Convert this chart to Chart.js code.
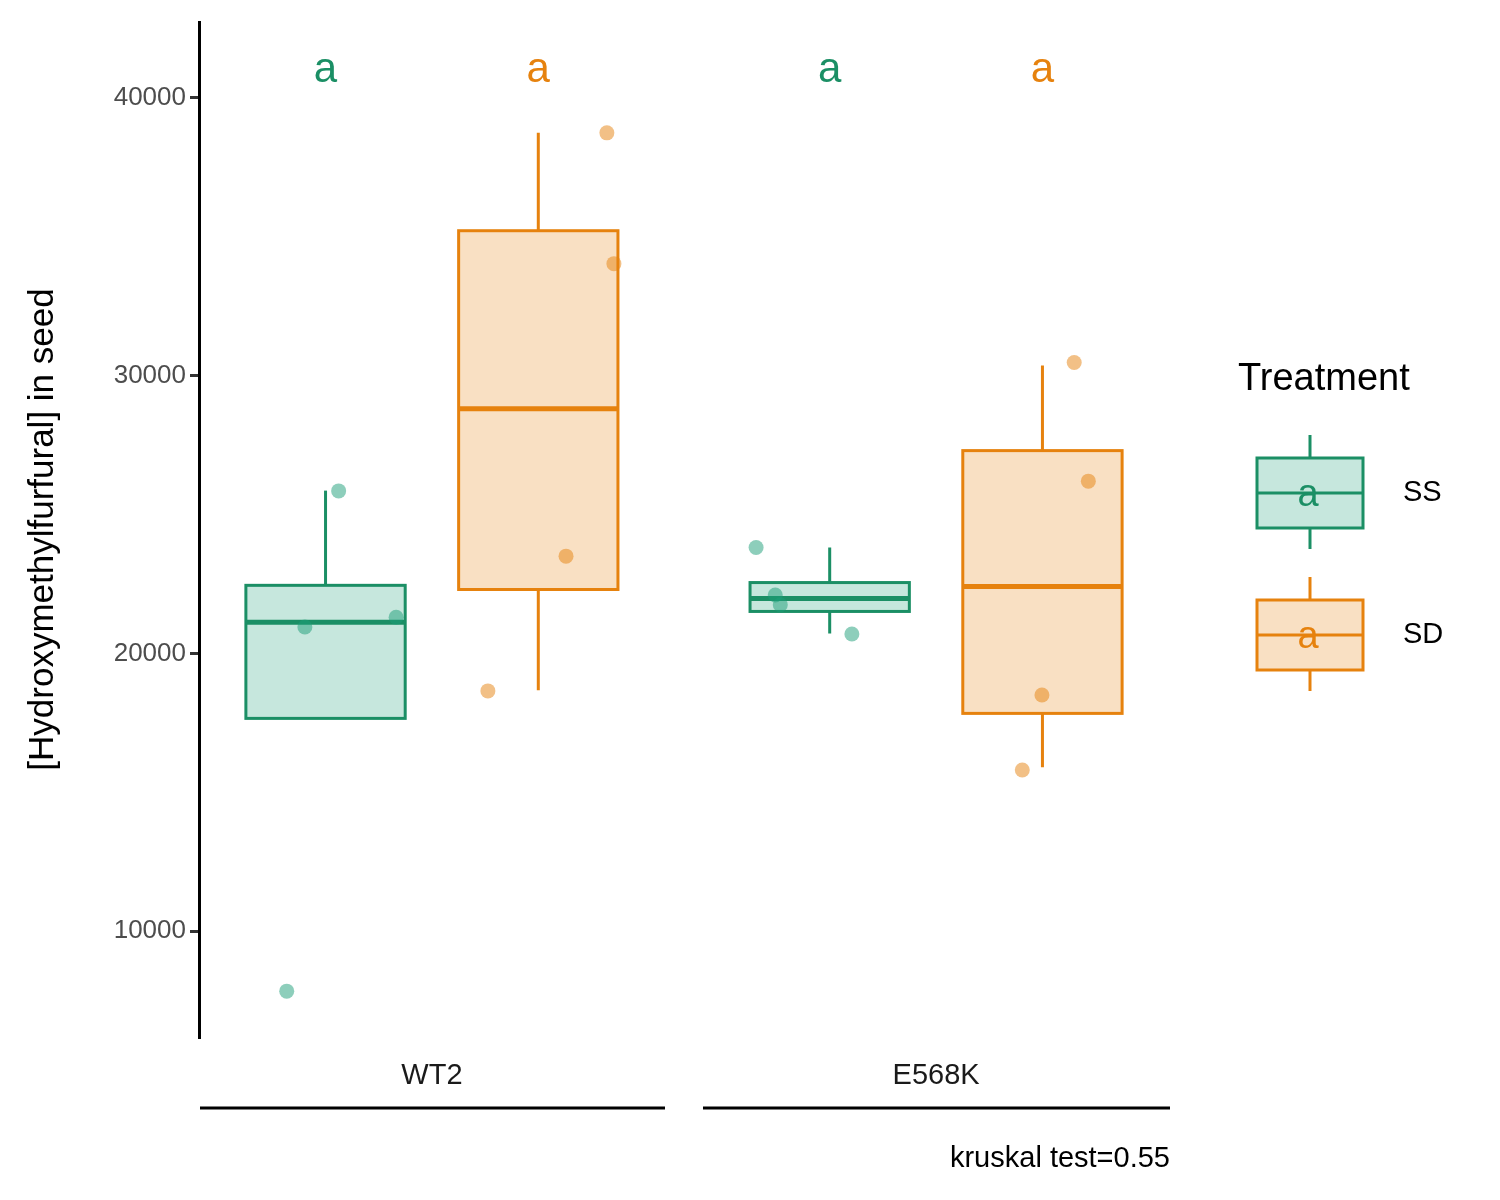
<!DOCTYPE html>
<html><head><meta charset="utf-8">
<script src="https://cdn.jsdelivr.net/npm/chart.js@4"></script>
<style>body{margin:0;background:#fff}#w{width:1500px;height:1200px}</style></head>
<body><div id="w"><canvas id="c"></canvas></div>
<script>
const genotypes = ["WT2","E568K"];
const treatments = ["SS","SD"];
const yTicks = [10000,20000,30000,40000];
// box stats [whiskerLow, q1, median, q3, whiskerHigh] per genotype, per treatment
const statsSS = [[17660,17660,21120,22450,25860],[20720,21510,21980,22550,23810]];
const statsSD = [[18670,22300,28810,35216,38740],[15900,17840,22410,27300,30360]];
// raw points: [genotypeIndex, jitter offset, value]
const pointsSS = [[0,-0.288,7840],[0,-0.252,20950],[0,-0.185,25850],[0,-0.071,21300],
                  [1,-0.357,23810],[1,-0.319,22100],[1,-0.309,21750],[1,-0.167,20700]];
const pointsSD = [[0,0.347,38740],[0,0.361,34030],[0,0.266,23500],[0,0.111,18650],
                  [1,0.274,30470],[1,0.302,26200],[1,0.210,18500],[1,0.171,15800]];
const letters = ["a","a","a","a"];
const annotation = "kruskal test=0.55";
const cols = {SS:"#1b8f65", SD:"#e6820e"};
const fills = {SS:"rgba(27,158,119,0.25)", SD:"rgba(230,130,14,0.25)"};
const dodge = 0.211, halfW = 0.158;
const FONT = "Liberation Sans, Arial";

const boxPlugin = {
  id:"boxes",
  beforeDatasetsDraw(ch){
    const {ctx, scales:{x,y}} = ch;
    ctx.save();
    [[statsSS,"SS",-dodge],[statsSD,"SD",dodge]].forEach(([st,k,off])=>{
      st.forEach((s,g)=>{
        const c = g+1+off;
        const xl=x.getPixelForValue(c-halfW), xr=x.getPixelForValue(c+halfW), xc=x.getPixelForValue(c);
        const [lo,q1,md,q3,hi]=s.map(v=>y.getPixelForValue(v));
        ctx.strokeStyle=cols[k]; ctx.lineWidth=3;
        ctx.beginPath(); ctx.moveTo(xc,q3); ctx.lineTo(xc,hi); ctx.moveTo(xc,q1); ctx.lineTo(xc,lo); ctx.stroke();
        ctx.fillStyle="#fff"; ctx.fillRect(xl,q3,xr-xl,q1-q3);
        ctx.fillStyle=fills[k]; ctx.fillRect(xl,q3,xr-xl,q1-q3);
        ctx.strokeRect(xl,q3,xr-xl,q1-q3);
        ctx.lineWidth=5; ctx.beginPath(); ctx.moveTo(xl,md); ctx.lineTo(xr,md); ctx.stroke();
      });
    });
    ctx.restore();
  },
  afterDraw(ch){
    const {ctx, scales:{x,y}, chartArea:a} = ch;
    ctx.save();
    ctx.textAlign="center"; ctx.textBaseline="middle";
    let i=0;
    genotypes.forEach((g,gi)=>{
      ctx.font="42px "+FONT;
      treatments.forEach((t,ti)=>{
        ctx.fillStyle=cols[t];
        ctx.fillText(letters[i++], x.getPixelForValue(gi+1+(ti?dodge:-dodge)), 70);
      });
      ctx.fillStyle="#1a1a1a"; ctx.font="29px "+FONT;
      ctx.fillText(g, x.getPixelForValue(gi+1), 1076);
      ctx.strokeStyle="#000"; ctx.lineWidth=3;
      const l = gi===0 ? a.left+1 : x.getPixelForValue(1.5)+19;
      const r = gi===0 ? x.getPixelForValue(1.5)-19 : a.right;
      ctx.beginPath(); ctx.moveTo(l,1108); ctx.lineTo(r,1108); ctx.stroke();
    });
    ctx.font="29px "+FONT; ctx.fillStyle="#000"; ctx.textAlign="right";
    ctx.fillText(annotation, a.right, 1159);
    // legend
    ctx.textAlign="left"; ctx.font="38px "+FONT; ctx.fillStyle="#000";
    ctx.fillText("Treatment", 1238, 380);
    treatments.forEach((t,ti)=>{
      const cy = 493 + ti*142, xl=1257, xr=1363, xc=1310;
      ctx.strokeStyle=cols[t]; ctx.lineWidth=3;
      ctx.beginPath(); ctx.moveTo(xc,cy-58); ctx.lineTo(xc,cy+56); ctx.stroke();
      ctx.fillStyle="#fff"; ctx.fillRect(xl,cy-35,xr-xl,70);
      ctx.fillStyle=fills[t]; ctx.fillRect(xl,cy-35,xr-xl,70);
      ctx.strokeRect(xl,cy-35,xr-xl,70);
      ctx.beginPath(); ctx.moveTo(xl,cy); ctx.lineTo(xr,cy); ctx.stroke();
      ctx.fillStyle=cols[t]; ctx.font="38px "+FONT; ctx.textAlign="center";
      ctx.fillText("a", 1308, cy+3);
      ctx.fillStyle="#000"; ctx.font="29px "+FONT; ctx.textAlign="left";
      ctx.fillText(t, 1403, cy);
    });
    ctx.restore();
  }
};

new Chart(document.getElementById("c"), {
  type:"scatter",
  data:{datasets:[
    {label:"SS", data:pointsSS.map(p=>({x:p[0]+1+p[1], y:p[2]})), backgroundColor:"rgba(27,158,119,0.5)", borderWidth:0, pointRadius:7.5},
    {label:"SD", data:pointsSD.map(p=>({x:p[0]+1+p[1], y:p[2]})), backgroundColor:"rgba(230,130,14,0.5)", borderWidth:0, pointRadius:7.5}
  ]},
  options:{
    responsive:true, maintainAspectRatio:false, animation:false,
    layout:{padding:{left:18,right:330,top:22,bottom:163}},
    plugins:{legend:{display:false}, tooltip:{enabled:false}},
    scales:{
      x:{type:"linear", min:0.538, max:2.464, display:false},
      y:{min:6190, max:42730,
         afterFit(s){s.width=181;},
         afterBuildTicks(s){s.ticks=yTicks.map(v=>({value:v}));},
         grid:{display:true, drawOnChartArea:false, drawTicks:true, tickLength:9, lineWidth:3, tickWidth:3, tickColor:"#333"},
         border:{display:true, color:"#000", width:3},
         ticks:{color:"#4d4d4d", font:{size:26, family:FONT}, padding:4, callback:v=>String(v)},
         title:{display:true, text:"[Hydroxymethylfurfural] in seed", color:"#000", font:{size:35, family:FONT}, padding:{bottom:14}}
      }
    }
  },
  plugins:[boxPlugin]
});
</script></body></html>
